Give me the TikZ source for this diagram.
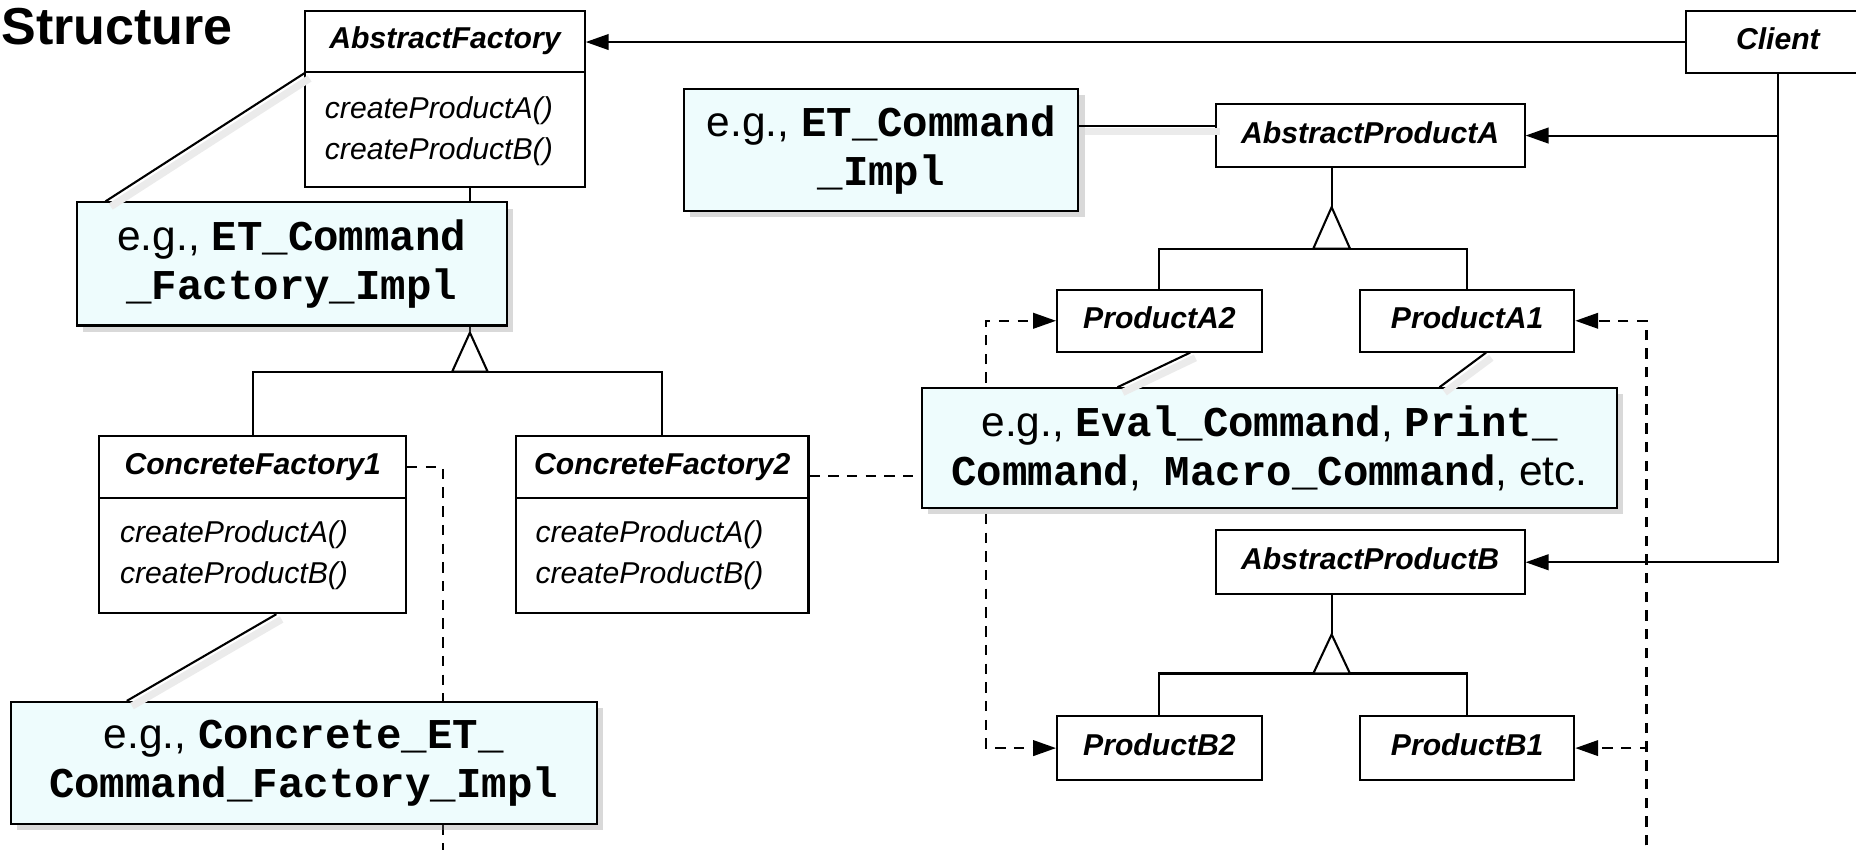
\documentclass[tikz,border=0pt]{standalone}
\usepackage{fontspec}
\setmainfont{Liberation Sans}
\newfontfamily\codefamily{Liberation Mono}
\usetikzlibrary{arrows.meta,calc,fit,shadows}
\def\code#1{{\codefamily\bfseries #1}}
\definecolor{notefill}{RGB}{238,252,253}
\tikzset{
	box/.style={draw, line width=1pt, inner sep=0pt},
	cname/.style={inner sep=0pt, text height=0.72em, text depth=0pt, font=\fontsize{14.5}{17}\selectfont\bfseries\itshape},
	meth/.style={inner sep=0pt, anchor=base west, font=\fontsize{14.5}{17}\selectfont\itshape},
	note/.style={draw, line width=1pt, fill=notefill, inner sep=0pt,
		drop shadow={shadow xshift=3pt, shadow yshift=-3pt, opacity=0.3}},
	notetext/.style={inner sep=0pt, align=center, font=\fontsize{20.4}{23.5}\selectfont},
	link/.style={line width=1pt},
	notelink/.style={line width=1pt, preaction={draw=black!8, line width=3.5pt, transform canvas={xshift=2.5pt, yshift=-2.5pt}}},
	assoc/.style={line width=1pt, -{Triangle[length=11pt,width=7.5pt]}},
	depline/.style={line width=1pt, dash pattern=on 5pt off 4pt},
	dep/.style={depline, -{Triangle[length=11pt,width=7.5pt]}},
	inherit/.style={line width=1pt, fill=white, line join=miter}
}

\begin{document}
\begin{tikzpicture}[x=0.02cm, y=-0.02cm]
			%%%%% START %%%%%
			\useasboundingbox (0,0) rectangle (1568,718);
			
			\node[anchor=base east, inner sep=0pt, font=\fontsize{25}{30}\selectfont\bfseries] (ttl) at (197,38) {Structure};
			
			% factories
			\node[box, fit={(258,9) (494,61)}] (afh) {};
			\node[cname] (afht) at (afh.center) {AbstractFactory};
			\node[box, fit={(258,61) (494,158)}] (afb) {};
			\node[meth] (afm1) at ($(afb.north west)+(17,40)$) {createProductA()};
			\node[meth] (afm2) at ($(afm1.base west)+(0,35)$) {createProductB()};
			
			\node[box, fit={(84,368) (343,421)}] (cf1h) {};
			\node[cname] (cf1t) at (cf1h.center) {ConcreteFactory1};
			\node[box, fit={(84,421) (343,518)}] (cf1b) {};
			\node[meth] (cf1m1) at ($(cf1b.north west)+(18,38)$) {createProductA()};
			\node[meth] (cf1m2) at ($(cf1m1.base west)+(0,35)$) {createProductB()};
			
			\node[box, fit={(436,368) (683,421)}] (cf2h) {};
			\node[cname] (cf2t) at (cf2h.center) {ConcreteFactory2};
			\node[box, fit={(436,421) (683,518)}] (cf2b) {};
			\node[meth] (cf2m1) at ($(cf2b.north west)+(17,38)$) {createProductA()};
			\node[meth] (cf2m2) at ($(cf2m1.base west)+(0,35)$) {createProductB()};
			
			\node[box, fit={(1424,9) (1580,62)}] (cl) {};
			\node[cname] (clt) at (cl.center) {Client};
			
			% products
			\node[box, fit={(1027,88) (1288,141)}] (apa) {};
			\node[cname] (apat) at (apa.center) {AbstractProductA};
			\node[box, fit={(893,245) (1066,297)}] (pa2) {};
			\node[cname] (pa2t) at (pa2.center) {ProductA2};
			\node[box, fit={(1149,245) (1330,297)}] (pa1) {};
			\node[cname] (pa1t) at (pa1.center) {ProductA1};
			
			\node[box, fit={(1027,448) (1288,502)}] (apb) {};
			\node[cname] (apbt) at (apb.center) {AbstractProductB};
			\node[box, fit={(893,605) (1066,659)}] (pb2) {};
			\node[cname] (pb2t) at (pb2.center) {ProductB2};
			\node[box, fit={(1149,605) (1330,659)}] (pb1) {};
			\node[cname] (pb1t) at (pb1.center) {ProductB1};
			
			% client
			\draw[assoc] (cl.west) -- (cl.west -| afh.east);
			\draw[assoc] (cl.south) |- (apb.east);
			\draw[assoc] (cl.south |- apa.east) -- (apa.east);
			
			% inheritance
			\coordinate (fapex) at (397,281);
			\draw[link] (afb.south -| fapex) -- (fapex);
			\draw[link] (cf1h.north) |- ($(fapex)+(0,33)$) -| (cf2h.north);
			\draw[inherit] (fapex) -- ++(-15,33) -- ++(30,0) -- cycle;
			
			\coordinate (aapex) at (1125,175);
			\draw[link] (apa.south -| aapex) -- (aapex);
			\draw[link] (pa2.north) |- ($(aapex)+(0,35)$) -| (pa1.north);
			\draw[inherit] (aapex) -- ++(-15.5,35) -- ++(31,0) -- cycle;
			
			\coordinate (bapex) at (1125,536);
			\draw[link] (apb.south -| bapex) -- (bapex);
			\draw[link] (pb2.north) |- ($(bapex)+(0,33)$) -| (pb1.north);
			\draw[inherit] (bapex) -- ++(-15.5,33) -- ++(31,0) -- cycle;
			
			% creates
			\coordinate (d1) at (374,730);
			\draw[depline] (cf1h.east) -| (d1);
			\coordinate (d2) at (833,402.5);
			\draw[depline] ($(cf2h.east)+(0,8)$) -- (d2);
			\draw[dep] (d2) |- (pa2.west);
			\draw[dep] (d2) |- (pb2.west);
			\coordinate (d3) at (1391,730);
			\draw[dep] (d3) |- (pa1.east);
			\draw[dep] (d3) |- (pb1.east);
			
			% notes
			\node[note, fit={(578,75) (911,178)}] (n1) {};
			\node[notetext] (n1t) at (n1.center) {e.g., \code{ET\_Command}\\\code{\_Impl}};
			\node[note, fit={(65,171) (428,275)}] (n2) {};
			\node[notetext] (n2t) at (n2.center) {e.g., \code{ET\_Command}\\\code{\_Factory\_Impl}};
			\node[note, fit={(9,593) (504,696)}] (n3) {};
			\node[notetext] (n3t) at (n3.center) {e.g., \code{Concrete\_ET\_}\\\code{Command\_Factory\_Impl}};
			\node[note, fit={(779,328) (1366,429)}] (n4) {};
			\node[notetext] (n4t) at (n4.center) {e.g., \code{Eval\_Command}, \code{Print\_}\\\code{Command},\ \ \code{Macro\_Command}, etc.};
			
			\draw[notelink] ($(apa.west)+(0,-8)$) coordinate (t1) -- (t1 -| n1.east);
			\draw[notelink] (afh.south west) -- ($(n2.north west)+(25,0)$);
			\draw[notelink] ($(cf1b.south)+(20,0)$) -- ($(n3.north west)+(99,0)$);
			\draw[notelink] ($(pa2.south)+(26,0)$) -- ($(n4.north west)+(166,0)$);
			\draw[notelink] ($(pa1.south)+(16,0)$) -- ($(n4.north west)+(438,0)$);
			
			%%%%% END %%%%%
\end{tikzpicture}
\end{document}
